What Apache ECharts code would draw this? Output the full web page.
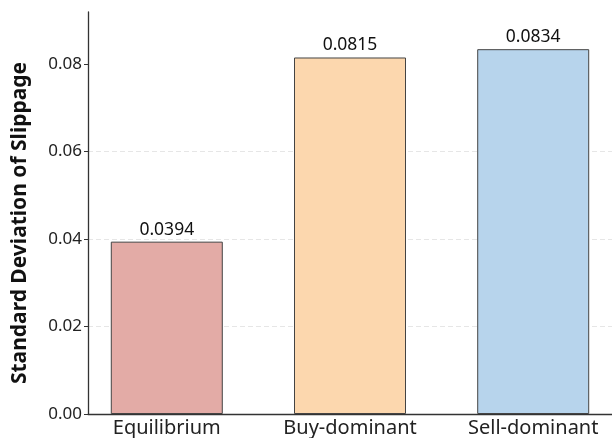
<!DOCTYPE html>
<html>
<head>
<meta charset="utf-8">
<script src="https://cdn.jsdelivr.net/npm/echarts@6/dist/echarts.min.js"></script>
<style>
  html, body { margin: 0; padding: 0; background: #fff; }
  #chart { width: 612px; height: 438px; }
</style>
</head>
<body>
<div id="chart"></div>
<script>
// Market regimes and the standard deviation of slippage in each
const categories = ['Equilibrium', 'Buy-dominant', 'Sell-dominant'];
const stdValues = [0.0394, 0.0815, 0.0834];
const barColors = ['#e3aba6', '#fcd7ae', '#b7d4ec'];
const yTicks = [0, 0.02, 0.04, 0.06, 0.08];
const yTitle = 'Standard Deviation of Slippage';

const FONT = '"Noto Sans", "Open Sans", sans-serif';

const chart = echarts.init(document.getElementById('chart'), null, { renderer: 'canvas' });

const barData = stdValues.map((v, i) => ({
  value: [i, v],
  itemStyle: { color: barColors[i] }
}));

chart.setOption({
  animation: false,
  backgroundColor: '#ffffff',
  grid: { left: 88, top: 12, width: 534, bottom: 23.5, containLabel: false },
  graphic: [{
    type: 'text',
    x: 20,
    y: 223,
    rotation: Math.PI / 2,
    style: {
      text: yTitle,
      fontFamily: FONT,
      fontSize: 21,
      fontWeight: 'bold',
      fill: '#111',
      align: 'center',
      verticalAlign: 'middle'
    }
  }],
  xAxis: {
    type: 'value',
    min: -0.43,
    max: 2.43,
    axisLine: { show: true, onZero: false, lineStyle: { color: '#333', width: 1.3 } },
    axisTick: { show: false },
    splitLine: { show: false },
    axisLabel: {
      customValues: categories.map((c, i) => i),
      formatter: (v) => categories[Math.round(v)] || '',
      color: '#222',
      fontFamily: FONT,
      fontSize: 20,
      margin: 4
    }
  },
  yAxis: {
    type: 'value',
    min: 0,
    max: 0.0919,
    axisLine: { show: true, onZero: false, lineStyle: { color: '#333', width: 1.3 } },
    axisTick: { show: true, customValues: yTicks, length: 4, lineStyle: { color: '#333' } },
    axisLabel: {
      customValues: yTicks,
      formatter: (v) => v.toFixed(2),
      color: '#222',
      fontFamily: FONT,
      fontSize: 17,
      margin: 6
    },
    interval: 0.02,
    splitLine: { show: true, showMaxLine: false, showMinLine: false, lineStyle: { color: '#e0e0e0', type: [5, 3], width: 0.8 } }
  },
  series: [{
    type: 'bar',
    data: barData,
    barWidth: 112,
    itemStyle: { borderColor: '#444', borderWidth: 1 },
    label: {
      show: true,
      position: 'top',
      distance: 3,
      formatter: (p) => p.value[1].toFixed(4),
      color: '#111',
      fontFamily: FONT,
      fontSize: 17.5
    }
  }]
});
</script>
</body>
</html>
